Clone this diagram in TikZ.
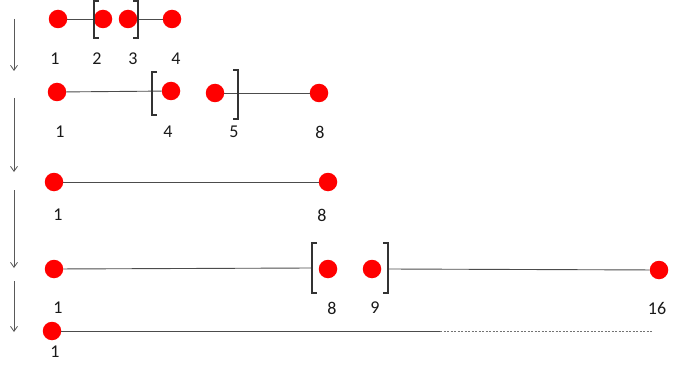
\documentclass[tikz,border=0pt]{standalone}
\usepackage{fontspec}
\setmainfont{Carlito}
\usetikzlibrary{arrows.meta}
\begin{document}
\begin{tikzpicture}[x=1pt,y=-1pt,
  dot/.style={circle,fill=red,draw=none,minimum size=18.5pt,inner sep=0pt},
  lbl/.style={font=\fontsize{18}{18}\selectfont,text=black!90,inner sep=0pt},
  link/.style={draw=black!70,line width=0.9pt},
  dashlink/.style={draw=black!55,line width=0.8pt,dash pattern=on 2pt off 1.5pt},
  brk/.style={draw=black!80,line width=1.3pt},
  flow/.style={draw=black!65,line width=0.8pt,-{Straight Barb[length=5pt,width=7pt]}}]
\useasboundingbox (0,0) rectangle (694,369);
% row 1
\node[dot] (r1a) at (58,19) {};
\node[dot] (r1b) at (103,19) {};
\node[dot] (r1c) at (128,19) {};
\node[dot] (r1d) at (172,19) {};
\draw[link] (r1a) -- (r1b);
\draw[link] (r1c) -- (r1d);
\draw[brk] (99,1) -- (94,1) -- (94,38) -- (99,38);
\draw[brk] (133,1) -- (138,1) -- (138,38) -- (133,38);
\node[lbl] (l1a) at (55,59) {1};
\node[lbl] (l1b) at (97,59) {2};
\node[lbl] (l1c) at (133,59) {3};
\node[lbl] (l1d) at (176,59) {4};
% row 2
\node[dot] (r2a) at (57,92) {};
\node[dot] (r2b) at (171,91) {};
\node[dot] (r2c) at (215,93) {};
\node[dot] (r2d) at (319,93) {};
\draw[link] (r2a) -- (r2b);
\draw[link] (r2c) -- (r2d);
\draw[brk] (157,72) -- (152,72) -- (152,115) -- (157,115);
\draw[brk] (233,70) -- (238,70) -- (238,119) -- (233,119);
\node[lbl] (l2a) at (60,132) {1};
\node[lbl] (l2b) at (168,132) {4};
\node[lbl] (l2c) at (234,132) {5};
\node[lbl] (l2d) at (320,132) {8};
% row 3
\node[dot] (r3a) at (54,182) {};
\node[dot] (r3b) at (328,182) {};
\draw[link] (r3a) -- (r3b);
\node[lbl] (l3a) at (58,215) {1};
\node[lbl] (l3b) at (322,215) {8};
% row 4
\node[dot] (r4a) at (54,269) {};
\node[dot] (r4b) at (328,269) {};
\node[dot] (r4c) at (372,269) {};
\node[dot] (r4d) at (659,270) {};
\coordinate (b4l) at (312,268);
\coordinate (b4r) at (388,269);
\draw[link] (r4a) -- (b4l);
\draw[link] (b4r) -- (r4d);
\draw[brk] (317,243) -- (312,243) -- (312,293) -- (317,293);
\draw[brk] (383,243) -- (388,243) -- (388,293) -- (383,293);
\node[lbl] (l4a) at (58,308) {1};
\node[lbl] (l4b) at (332,308) {8};
\node[lbl] (l4c) at (375,308) {9};
\node[lbl] (l4d) at (657,308) {16};
% row 5
\node[dot] (r5a) at (52,331) {};
\coordinate (r5m) at (440,331);
\coordinate (r5e) at (653,331);
\draw[link] (r5a) -- (r5m);
\draw[dashlink] (r5m) -- (r5e);
\node[lbl] (l5a) at (55,352) {1};
% arrows
\coordinate (a1s) at (14,19);
\coordinate (a1e) at (14,71);
\coordinate (a2s) at (14,98);
\coordinate (a2e) at (14,172);
\coordinate (a3s) at (14,190);
\coordinate (a3e) at (14,268);
\coordinate (a4s) at (14,281);
\coordinate (a4e) at (14,332);
\draw[flow] (a1s) -- (a1e);
\draw[flow] (a2s) -- (a2e);
\draw[flow] (a3s) -- (a3e);
\draw[flow] (a4s) -- (a4e);
\end{tikzpicture}
\end{document}
